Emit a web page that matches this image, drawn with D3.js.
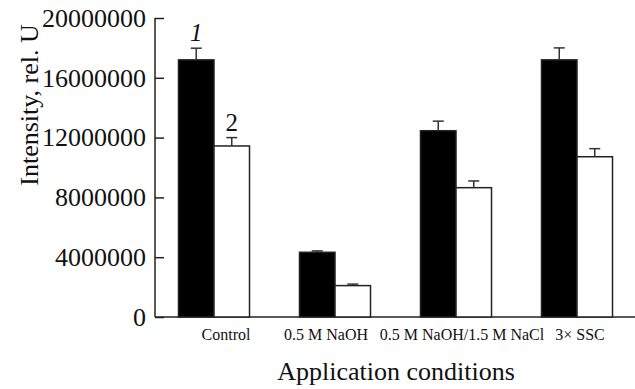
<!DOCTYPE html>
<html lang="en">
<head>
  <meta charset="UTF-8">
  <title>Intensity vs application conditions</title>
  <script src="https://d3js.org/d3.v7.min.js"></script>
  <style>
    body {
      margin: 0;
      overflow: hidden;
      background: white;
    }
    text {
      font-family: "Liberation Serif", "DejaVu Serif", serif;
      fill: #111;
    }
  </style>
</head>
<body>
  <script>
    const width = 635;
    const height = 389;

    // data
    const categories = ["Control", "0.5 M NaOH", "0.5 M NaOH/1.5 M NaCl", "3\u00d7 SSC"];
    const series1 = [17200000, 4330000, 12460000, 17200000];
    const series1Err = [780000, 90000, 640000, 800000];
    const series2 = [11440000, 2100000, 8650000, 10720000];
    const series2Err = [560000, 100000, 450000, 540000];
    const yTicks = [0, 4000000, 8000000, 12000000, 16000000, 20000000];

    const svg = d3.select("body")
      .append("svg")
      .attr("width", width)
      .attr("height", height);

    const y = d3.scaleLinear()
      .domain([0, 20000000])
      .range([317, 18]);

    const x = d3.scaleBand()
      .domain(categories)
      .range([153.5, 637.5])
      .paddingInner(0.413)
      .paddingOuter(0.2065);

    const half = x.bandwidth() / 2;

    // y axis
    const yAxis = svg.append("g")
      .attr("transform", "translate(155,0)")
      .call(d3.axisRight(y).tickValues(yTicks).tickSize(9).tickFormat(""));
    yAxis.select(".domain").remove();
    yAxis.selectAll(".tick line").attr("stroke", "#222").attr("stroke-width", 1.5);

    svg.append("line")
      .attr("x1", 155).attr("x2", 155)
      .attr("y1", y(20000000)).attr("y2", y(0))
      .attr("stroke", "#222").attr("stroke-width", 1.5);

    svg.append("line")
      .attr("x1", 155).attr("x2", width)
      .attr("y1", y(0)).attr("y2", y(0))
      .attr("stroke", "#222").attr("stroke-width", 1.5);

    svg.append("g").selectAll("text")
      .data(yTicks)
      .enter()
      .append("text")
      .attr("x", 146)
      .attr("y", d => y(d))
      .attr("dy", "0.34em")
      .attr("text-anchor", "end")
      .style("font-size", "26px")
      .text(d => d3.format("d")(d));

    // bars
    function drawSeries(values, errs, offset, fill) {
      const g = svg.append("g");
      g.selectAll("rect")
        .data(values)
        .enter()
        .append("rect")
        .attr("x", (d, i) => x(categories[i]) + offset)
        .attr("y", d => y(d))
        .attr("width", half)
        .attr("height", d => y(0) - y(d))
        .attr("fill", fill)
        .attr("stroke", "#222")
        .attr("stroke-width", 1.5);

      g.selectAll("line.err")
        .data(values)
        .enter()
        .append("line")
        .attr("class", "err")
        .attr("x1", (d, i) => x(categories[i]) + offset + half / 2)
        .attr("x2", (d, i) => x(categories[i]) + offset + half / 2)
        .attr("y1", d => y(d))
        .attr("y2", (d, i) => y(d + errs[i]))
        .attr("stroke", "#333")
        .attr("stroke-width", 1.5);

      g.selectAll("line.cap")
        .data(values)
        .enter()
        .append("line")
        .attr("class", "cap")
        .attr("x1", (d, i) => x(categories[i]) + offset + half / 2 - 5.5)
        .attr("x2", (d, i) => x(categories[i]) + offset + half / 2 + 5.5)
        .attr("y1", (d, i) => y(d + errs[i]))
        .attr("y2", (d, i) => y(d + errs[i]))
        .attr("stroke", "#333")
        .attr("stroke-width", 1.5);
    }

    drawSeries(series1, series1Err, 0, "#000");
    drawSeries(series2, series2Err, half, "#fff");

    // series numbers above the first group
    svg.append("text")
      .attr("x", x(categories[0]) + half / 2)
      .attr("y", y(series1[0] + series1Err[0]) - 7)
      .attr("text-anchor", "middle")
      .style("font-size", "25px")
      .style("font-style", "italic")
      .text("1");

    svg.append("text")
      .attr("x", x(categories[0]) + half * 1.5)
      .attr("y", y(series2[0] + series2Err[0]) - 7)
      .attr("text-anchor", "middle")
      .style("font-size", "25px")
      .text("2");

    // category labels, nudged the way the original figure sets them
    const labelNudge = [12, -9, 6, 3];
    svg.append("g").selectAll("text")
      .data(categories)
      .enter()
      .append("text")
      .attr("x", (d, i) => x(d) + half + labelNudge[i])
      .attr("y", 340)
      .attr("text-anchor", "middle")
      .style("font-size", "16px")
      .text(d => d);

    // axis titles
    svg.append("text")
      .attr("x", 396)
      .attr("y", 380)
      .attr("text-anchor", "middle")
      .style("font-size", "26px")
      .text("Application conditions");

    svg.append("text")
      .attr("transform", "translate(38,105) rotate(-90)")
      .attr("text-anchor", "middle")
      .style("font-size", "26px")
      .text("Intensity, rel. U");
  </script>
</body>
</html>
